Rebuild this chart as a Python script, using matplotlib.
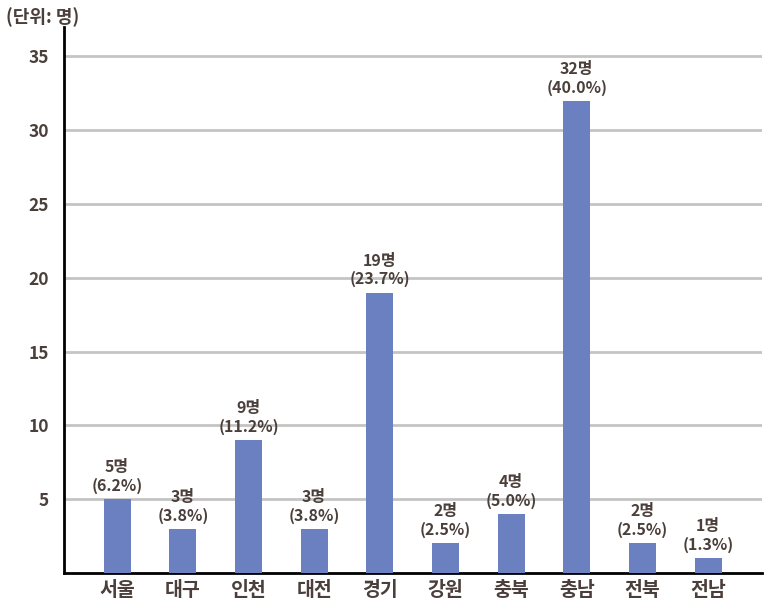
import matplotlib.pyplot as plt

plt.rcParams['font.family'] = ['Noto Sans CJK KR', 'DejaVu Sans']

regions = ['서울', '대구', '인천', '대전', '경기', '강원', '충북', '충남', '전북', '전남']
counts = [5, 3, 9, 3, 19, 2, 4, 32, 2, 1]
shares = [6.2, 3.8, 11.2, 3.8, 23.7, 2.5, 5.0, 40.0, 2.5, 1.3]
yticks = [5, 10, 15, 20, 25, 30, 35]

text_color = '#4a3f3a'
bar_color = '#6b80c0'

fig = plt.figure(figsize=(7.67, 6.15), dpi=100)
ax = fig.add_axes([0.0834, 0.0683, 0.91, 0.888])

x = list(range(len(regions)))
ax.bar(x, counts, width=0.41, color=bar_color, zorder=3)

for xi, c, s in zip(x, counts, shares):
    ax.text(xi, c + 0.35, '{}명\n({:.1f}%)'.format(c, s), ha='center', va='bottom',
            fontsize=11.5, fontweight='bold', color=text_color, linespacing=1.2, zorder=4)

ax.set_xlim(-0.81, 9.82)
ax.set_ylim(0, 37)
ax.set_yticks(yticks)
ax.set_yticklabels([str(t) for t in yticks])
ax.set_xticks(x)
ax.set_xticklabels(regions)
ax.yaxis.grid(True, color='#c4c4c4', linewidth=2, zorder=0)
ax.tick_params(axis='both', length=0, colors=text_color)
ax.tick_params(axis='y', pad=11, labelsize=12.5)
ax.tick_params(axis='x', pad=6, labelsize=14)
for lbl in ax.get_xticklabels() + ax.get_yticklabels():
    lbl.set_fontweight('bold')

for side in ['top', 'right']:
    ax.spines[side].set_visible(False)
for side in ['left', 'bottom']:
    ax.spines[side].set_linewidth(2)
    ax.spines[side].set_color('black')

fig.text(0.008, 0.988, '(단위: 명)', ha='left', va='top', fontsize=13,
         fontweight='bold', color=text_color)

fig.savefig('out.png', dpi=100)
